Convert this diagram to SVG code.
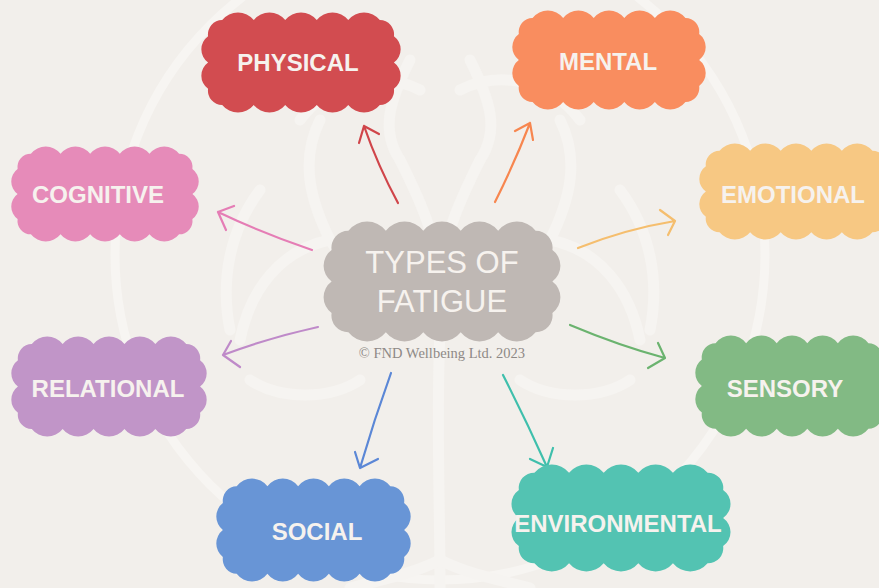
<svg xmlns="http://www.w3.org/2000/svg" xmlns:xlink="http://www.w3.org/1999/xlink" width="879" height="588" viewBox="0 0 879 588">
<style>
.wm{fill:none;stroke:#F6F4F1;stroke-width:11;stroke-linecap:round;stroke-linejoin:round}
.lbl{font-family:"Liberation Sans",Arial,sans-serif;font-weight:bold;font-size:24px;fill:#F6F2EE;text-anchor:middle}
.ctr{font-family:"Liberation Sans",Arial,sans-serif;font-size:31px;fill:#F6F2EE;text-anchor:middle}
.copy{font-family:"Liberation Serif","Times New Roman",serif;font-size:14.5px;fill:#8E8986;text-anchor:middle}
.con{fill:none;stroke-width:2.2;stroke-linecap:round;stroke-linejoin:round}
</style>
<defs>
<path id="cloud" d="M22,8 A20,20 0 0 1 53.2,8 A20,20 0 0 1 84.4,8 A20,20 0 0 1 115.6,8 A20,20 0 0 1 146.8,8 A20,20 0 0 1 178,8 A14,14 0 0 1 192,24 A16,16 0 0 1 192,50 A16,16 0 0 1 192,76 A14,14 0 0 1 178,92 A20,20 0 0 1 146.8,92 A20,20 0 0 1 115.6,92 A20,20 0 0 1 84.4,92 A20,20 0 0 1 53.2,92 A20,20 0 0 1 22,92 A14,14 0 0 1 8,76 A16,16 0 0 1 8,50 A16,16 0 0 1 8,24 A14,14 0 0 1 22,8 Z"/>
</defs>
<rect width="879" height="588" fill="#F2EFEB"/>
<g id="watermark">
<circle cx="440" cy="255" r="325" fill="none" stroke="#F7F5F2" stroke-width="9"/>
<path class="wm" d="M440,588 C440,500 436,420 440,330"/>
<path class="wm" d="M440,560 C410,575 380,580 350,588 M440,560 C470,575 500,580 530,588"/>
<path class="wm" d="M440,330 C400,300 360,290 330,240 C310,200 300,160 320,120"/>
<path class="wm" d="M440,330 C480,300 520,290 550,240 C570,200 580,160 560,120"/>
<path class="wm" d="M440,300 C440,240 420,200 400,160 M440,300 C440,240 460,200 480,160"/>
<path class="wm" d="M330,240 C280,250 250,290 240,340 M550,240 C600,250 630,290 640,340"/>
<path class="wm" d="M260,190 C230,230 220,280 230,330 M620,190 C650,230 660,280 650,330"/>
<path class="wm" d="M300,120 C330,80 380,70 420,90 M580,120 C550,80 500,70 460,90"/>
<path class="wm" d="M250,380 C280,400 330,400 360,380 M630,380 C600,400 550,400 520,380"/>
<path class="wm" d="M400,160 C380,130 390,100 410,60 M480,160 C500,130 490,100 470,60"/>
</g>
<g id="connectors">
<path class="con" stroke="#D0454A" d="M398,203 Q378,166 364,126 M359,143 L364,126 L379,134"/>
<path class="con" stroke="#F7864F" d="M495,202 Q515,162 530,123 M515,131 L530,123 L533,140"/>
<path class="con" stroke="#E57DB5" d="M312,250 Q262,233 218,212 M234,206 L218,212 L226,230"/>
<path class="con" stroke="#F5BE6E" d="M578,248 Q626,229 675,221 M660,210 L675,221 L668,235"/>
<path class="con" stroke="#BF8AC9" d="M318,327 Q268,338 223,355 M231,341 L223,355 L240,367"/>
<path class="con" stroke="#6BB36F" d="M570,325 Q620,346 665,358 M658,343 L665,358 L648,368"/>
<path class="con" stroke="#5B87D6" d="M391,373 Q374,420 360,468 M355,452 L360,468 L378,459"/>
<path class="con" stroke="#3FBFAC" d="M503,375 Q526,420 547,467 M530,459 L547,467 L553,448"/>
</g>
<g id="center">
<use xlink:href="#cloud" href="#cloud" fill="#BFB8B4" transform="translate(322,221) scale(1.2,1.21)"/>
<text class="ctr" x="442" y="273">TYPES OF</text>
<text class="ctr" x="442" y="312">FATIGUE</text>
<text class="copy" x="442" y="358">© FND Wellbeing Ltd. 2023</text>
</g>
<g id="physical">
<use href="#cloud" fill="#D24C50" transform="translate(200,12) scale(1.01,1.01)"/>
<text class="lbl" x="298" y="71">PHYSICAL</text>
</g>
<g id="mental">
<use href="#cloud" fill="#F98D5F" transform="translate(511,10) scale(0.98,1.0)"/>
<text class="lbl" x="608" y="70">MENTAL</text>
</g>
<g id="cognitive">
<use href="#cloud" fill="#E68BB9" transform="translate(10,146) scale(0.95,0.96)"/>
<text class="lbl" x="98" y="203">COGNITIVE</text>
</g>
<g id="emotional">
<use href="#cloud" fill="#F7C883" transform="translate(698,143) scale(0.98,0.97)"/>
<text class="lbl" x="793" y="203">EMOTIONAL</text>
</g>
<g id="relational">
<use href="#cloud" fill="#C195C8" transform="translate(10,336) scale(0.99,1.01)"/>
<text class="lbl" x="108" y="397">RELATIONAL</text>
</g>
<g id="sensory">
<use href="#cloud" fill="#82BA84" transform="translate(694,335) scale(0.98,1.02)"/>
<text class="lbl" x="785" y="397">SENSORY</text>
</g>
<g id="social">
<use href="#cloud" fill="#6895D6" transform="translate(215,478) scale(0.985,1.04)"/>
<text class="lbl" x="317" y="540">SOCIAL</text>
</g>
<g id="environmental">
<use href="#cloud" fill="#53C3B2" transform="translate(510,464) scale(1.11,1.08)"/>
<text class="lbl" x="618" y="532">ENVIRONMENTAL</text>
</g>
</svg>
